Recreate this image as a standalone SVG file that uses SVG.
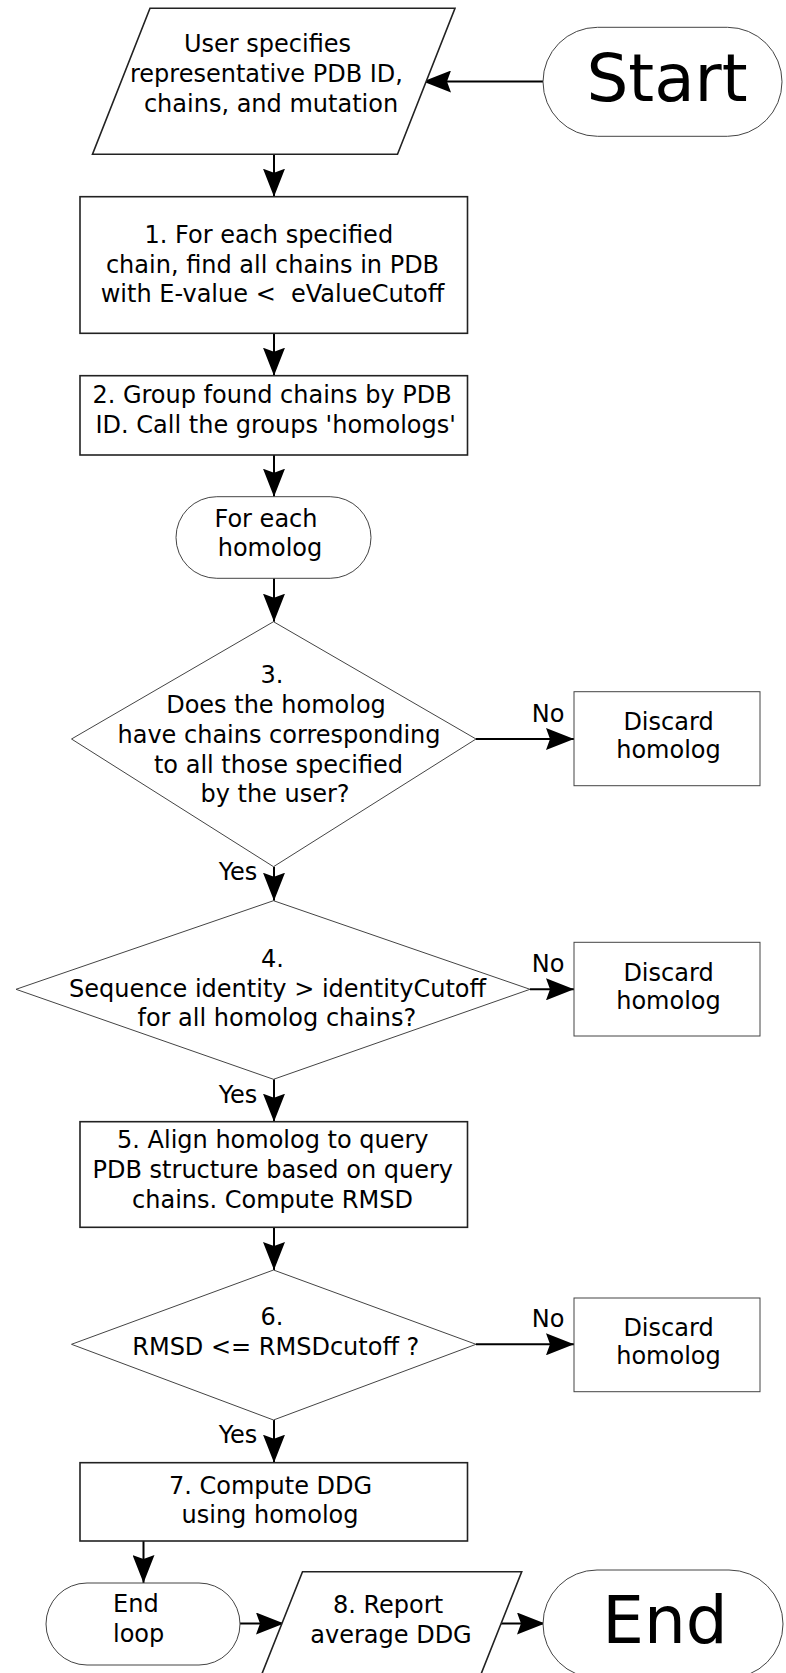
<svg xmlns="http://www.w3.org/2000/svg" width="786" height="1673" viewBox="0 0 786 1673">
<defs>
<style>
text{font-family:"DejaVu Sans","Liberation Sans",sans-serif;font-size:24px;fill:#000;text-anchor:middle;white-space:pre}
.big{font-size:66px}
.lft{text-anchor:start}
.box{fill:#fff;stroke:#222;stroke-width:1.6}
.thin{fill:#fff;stroke:#444;stroke-width:1}
.edge{fill:none;stroke:#000;stroke-width:2}
</style>
<marker id="ah" viewBox="0 0 28 22" refX="28" refY="11" markerWidth="28" markerHeight="22" markerUnits="userSpaceOnUse" orient="auto">
<path d="M0,0 L28,11 L0,22 L4,11 Z" fill="#000"/>
</marker>
</defs>
<rect width="786" height="1673" fill="#fff"/>

<g id="connectors">
<line class="edge" x1="543" y1="81.5" x2="423" y2="81.5" marker-end="url(#ah)"/>
<line class="edge" x1="274" y1="154.3" x2="274" y2="196.7" marker-end="url(#ah)"/>
<line class="edge" x1="274" y1="333.3" x2="274" y2="375.7" marker-end="url(#ah)"/>
<line class="edge" x1="274" y1="455" x2="274" y2="496.7" marker-end="url(#ah)"/>
<line class="edge" x1="274" y1="578.3" x2="274" y2="621.7" marker-end="url(#ah)"/>
<line class="edge" x1="476" y1="739" x2="574" y2="739" marker-end="url(#ah)"/>
<text x="548" y="721.7">No</text>
<line class="edge" x1="274" y1="866.7" x2="274" y2="900.7" marker-end="url(#ah)"/>
<text x="238" y="880">Yes</text>
<line class="edge" x1="530" y1="989.3" x2="574" y2="989.3" marker-end="url(#ah)"/>
<text x="548" y="971.7">No</text>
<line class="edge" x1="274" y1="1079.3" x2="274" y2="1121.7" marker-end="url(#ah)"/>
<text x="238" y="1103.3">Yes</text>
<line class="edge" x1="274" y1="1227.3" x2="274" y2="1270" marker-end="url(#ah)"/>
<line class="edge" x1="476" y1="1344.3" x2="574" y2="1344.3" marker-end="url(#ah)"/>
<text x="548" y="1327">No</text>
<line class="edge" x1="274" y1="1420" x2="274" y2="1462.7" marker-end="url(#ah)"/>
<text x="238" y="1443.3">Yes</text>
<line class="edge" x1="143.5" y1="1541" x2="143.5" y2="1583" marker-end="url(#ah)"/>
<line class="edge" x1="240" y1="1623.5" x2="284" y2="1623.5" marker-end="url(#ah)"/>
<line class="edge" x1="501" y1="1623.5" x2="545" y2="1623.5" marker-end="url(#ah)"/>
</g>

<g id="input">
<polygon class="box" points="150,8.3 455,8.3 397.5,154.3 92.5,154.3"/>
<text x="267.5" y="52">User specifies</text>
<text x="266.5" y="82">representative PDB ID,</text>
<text x="271" y="112">chains, and mutation</text>
</g>

<g id="start">
<rect class="thin" x="543" y="27.3" width="239" height="109" rx="54.5" ry="54.5"/>
<text class="big" x="667" y="101">Start</text>
</g>

<g id="step1">
<rect class="box" x="80" y="196.7" width="387.5" height="136.6"/>
<text x="268.8" y="243">1. For each specified</text>
<text x="272.5" y="273">chain, find all chains in PDB</text>
<text x="272.5" y="302">with E-value &lt;  eValueCutoff</text>
</g>

<g id="step2">
<rect class="box" x="80" y="375.7" width="387.5" height="79.3"/>
<text x="272" y="403">2. Group found chains by PDB</text>
<text x="275.7" y="432.7">ID. Call the groups 'homologs'</text>
</g>

<g id="loopstart">
<rect class="thin" x="176" y="496.7" width="195" height="81.6" rx="40.8" ry="40.8"/>
<text x="266" y="526.7">For each</text>
<text x="270" y="555.7">homolog</text>
</g>

<g id="step3">
<polygon class="thin" points="273.5,621.7 476,739 273.5,866.7 71.5,739"/>
<text x="272" y="683">3.</text>
<text x="276" y="713">Does the homolog</text>
<text x="279" y="743">have chains corresponding</text>
<text x="278.5" y="773">to all those specified</text>
<text x="275" y="802">by the user?</text>
</g>

<g id="discard1">
<rect class="thin" x="574" y="691.7" width="186" height="94"/>
<text x="668.5" y="730">Discard</text>
<text x="668.5" y="758">homolog</text>
</g>

<g id="step4">
<polygon class="thin" points="273.5,900.7 530,989.3 273.5,1079.3 16,989.3"/>
<text x="272.5" y="966.7">4.</text>
<text x="277.5" y="996.7">Sequence identity &gt; identityCutoff</text>
<text x="276.8" y="1026">for all homolog chains?</text>
</g>

<g id="discard2">
<rect class="thin" x="574" y="942.3" width="186" height="93.7"/>
<text x="668.5" y="980.5">Discard</text>
<text x="668.5" y="1008.5">homolog</text>
</g>

<g id="step5">
<rect class="box" x="80" y="1121.7" width="387.5" height="105.6"/>
<text x="272.8" y="1148.3">5. Align homolog to query</text>
<text x="272.8" y="1178.3">PDB structure based on query</text>
<text x="272.5" y="1208.3">chains. Compute RMSD</text>
</g>

<g id="step6">
<polygon class="thin" points="273.5,1270 476,1344.3 273.5,1420 71.5,1344.3"/>
<text x="272" y="1325">6.</text>
<text x="275.8" y="1355">RMSD &lt;= RMSDcutoff ?</text>
</g>

<g id="discard3">
<rect class="thin" x="574" y="1298" width="186" height="93.7"/>
<text x="668.5" y="1336.3">Discard</text>
<text x="668.5" y="1364.3">homolog</text>
</g>

<g id="step7">
<rect class="box" x="80" y="1462.7" width="387.5" height="78.3"/>
<text x="270.5" y="1494">7. Compute DDG</text>
<text x="270" y="1523.3">using homolog</text>
</g>

<g id="loopend">
<rect class="thin" x="46" y="1583" width="194" height="82" rx="41" ry="41"/>
<text class="lft" x="113" y="1611.7">End</text>
<text class="lft" x="113" y="1641.7">loop</text>
</g>

<g id="step8">
<polygon class="box" points="302.5,1571.7 521.7,1571.7 463.7,1717.7 244.5,1717.7"/>
<text x="388" y="1613.3">8. Report</text>
<text x="391" y="1642.7">average DDG</text>
</g>

<g id="end">
<rect class="thin" x="543" y="1570" width="240" height="108" rx="54" ry="54"/>
<text class="big" x="665" y="1643.3">End</text>
</g>
</svg>
